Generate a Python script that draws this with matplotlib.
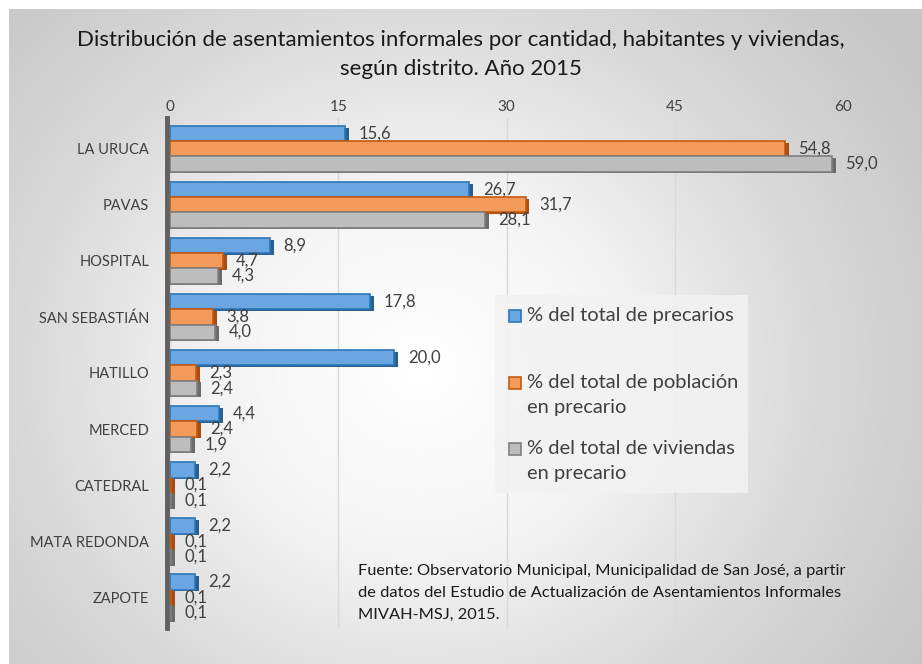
import numpy as np
import matplotlib.pyplot as plt
from matplotlib.colors import LinearSegmentedColormap
from matplotlib.patches import Rectangle

# data
districts = ["LA URUCA", "PAVAS", "HOSPITAL", "SAN SEBASTIÁN", "HATILLO",
             "MERCED", "CATEDRAL", "MATA REDONDA", "ZAPOTE"]
precarios = [15.6, 26.7, 8.9, 17.8, 20.0, 4.4, 2.2, 2.2, 2.2]
poblacion = [54.8, 31.7, 4.7, 3.8, 2.3, 2.4, 0.1, 0.1, 0.1]
viviendas = [59.0, 28.1, 4.3, 4.0, 2.4, 1.9, 0.1, 0.1, 0.1]
series_names = ["% del total de precarios",
                "% del total de población\nen precario",
                "% del total de viviendas\nen precario"]
xticks = [0, 15, 30, 45, 60]

plt.rcParams['font.family'] = ['Lato', 'DejaVu Sans']

W, H = 922, 664
fig = plt.figure(figsize=(9.22, 6.64), dpi=100)

# radial gray background
bg = fig.add_axes([9 / W, 0, (W - 9) / W, (H - 9) / H], zorder=-5)
yy, xx = np.mgrid[0:1:300j, 0:1:400j]
r = np.sqrt(((xx - 0.45) * 1.3) ** 2 + ((yy - 0.55) * 1.0) ** 2)
cmap = LinearSegmentedColormap.from_list("bg", ["#ffffff", "#f4f4f4", "#d9d9d9", "#c6c6c6"])
bg.imshow(r, cmap=cmap, aspect="auto", extent=[0, 1, 0, 1], vmin=0, vmax=0.85)
bg.set_xlim(0, 1)
bg.set_ylim(0, 1)
bg.axis("off")

ax = fig.add_axes([170 / W, 1 - 628 / H, 673 / W, 510 / H])
ax.patch.set_alpha(0)

y = np.arange(len(districts))
h = 0.27
faces = ["#6aa6e2", "#f49a5a", "#bdbdbd"]
edges = ["#2e75b6", "#c55a11", "#7f7f7f"]
shadow = ["#2a5f94", "#a84e12", "#6b6b6b"]
offsets = [-h, 0, h]

for vals, off, fc, ec, sc in zip([precarios, poblacion, viviendas], offsets,
                                 faces, edges, shadow):
    # depth shadow behind each bar
    ax.barh(y + off + 0.03, [v + 0.35 for v in vals], height=h, color=sc, zorder=2)
    ax.barh(y + off, vals, height=h, color=fc, edgecolor=ec, linewidth=1.2, zorder=3)
    for yi, v in zip(y, vals):
        ax.text(v + 1.2, yi + off, f"{v:.1f}".replace(".", ","),
                va="center", ha="left", fontsize=12, color="#404040", zorder=4)

ax.set_xlim(0, 60)
ax.set_ylim(8.55, -0.55)
ax.set_xticks(xticks)
ax.xaxis.tick_top()
ax.tick_params(axis="x", length=0, labelsize=11, labelcolor="#404040", pad=3)
ax.set_yticks(y)
ax.set_yticklabels(districts)
ax.tick_params(axis="y", length=0, labelsize=10.5, labelcolor="#404040", pad=13)
ax.grid(axis="x", color="#d9d9d9", linewidth=1, zorder=0)
for s in ["top", "right", "bottom"]:
    ax.spines[s].set_visible(False)
ax.spines["left"].set_color("#606060")
ax.spines["left"].set_linewidth(3.5)
ax.spines["left"].set_position(("outward", 2))

# legend drawn by hand so the squares sit on the first text line
fig.patches.append(Rectangle((495 / W, 1 - 493 / H), 253 / W, 198 / H,
                             transform=fig.transFigure, facecolor="#f2f2f2",
                             edgecolor="none", alpha=0.85, zorder=1))
leg_y = [316, 383, 449]
for name, fc, ec, ly in zip(series_names, faces, edges, leg_y):
    fig.patches.append(Rectangle((509 / W, 1 - (ly + 6) / H), 12 / W, 12 / H,
                                 transform=fig.transFigure, facecolor=fc,
                                 edgecolor=ec, linewidth=1.2, zorder=2))
    fig.text(527 / W, 1 - (ly - 9) / H, name, ha="left", va="top",
             fontsize=14.5, color="#404040", linespacing=1.6, zorder=3)

fig.text(0.5, 1 - 40 / H, "Distribución de asentamientos informales por cantidad, habitantes y viviendas,",
         ha="center", va="center", fontsize=16, color="#1a1a1a")
fig.text(0.5, 1 - 69 / H, "según distrito. Año 2015",
         ha="center", va="center", fontsize=16, color="#1a1a1a")

fig.text(358 / W, 1 - 564 / H,
         "Fuente: Observatorio Municipal, Municipalidad de San José, a partir\n"
         "de datos del Estudio de Actualización de Asentamientos Informales\n"
         "MIVAH-MSJ, 2015.",
         ha="left", va="top", fontsize=11.8, color="#1a1a1a", linespacing=1.7)

fig.savefig("out.png", dpi=100)
